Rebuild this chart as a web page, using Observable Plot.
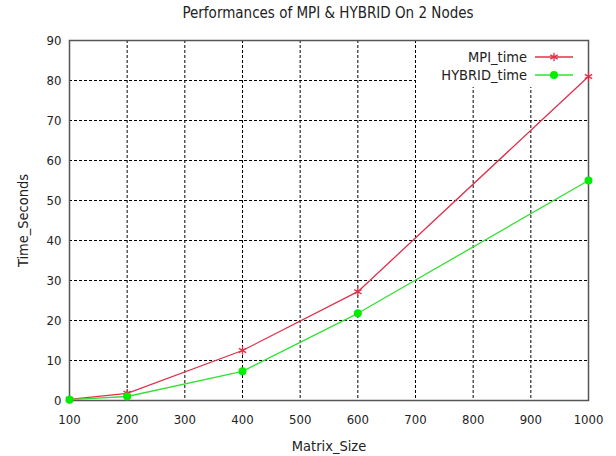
<!DOCTYPE html>
<html><head><meta charset="utf-8">
<script src="https://cdn.jsdelivr.net/npm/d3@7"></script>
<script src="https://cdn.jsdelivr.net/npm/@observablehq/plot@0.6"></script>
<style>
body{margin:0;background:#fff;}
#wrap{position:relative;width:616px;height:456px;font-family:"DejaVu Sans Condensed","DejaVu Sans",sans-serif;}
#title{position:absolute;top:4px;left:41px;width:574px;text-align:center;font-size:15px;color:#222;}
</style></head>
<body><div id="wrap"><div id="title">Performances of MPI &amp; HYBRID On 2 Nodes</div></div>
<script>
const sizes = [100, 200, 400, 600, 1000];
const mpiTime = [0.3, 1.8, 12.5, 27.2, 81];
const hybridTime = [0.2, 1.0, 7.3, 21.8, 55];
const seriesNames = ["MPI_time", "HYBRID_time"];
const xTicks = [100, 200, 300, 400, 500, 600, 700, 800, 900, 1000];
const yTicks = [0, 10, 20, 30, 40, 50, 60, 70, 80, 90];

const mpi = sizes.map((s, i) => ({x: s, y: mpiTime[i]}));
const hyb = sizes.map((s, i) => ({x: s, y: hybridTime[i]}));
const red = "#e0304a", green = "#33e033";
const font = "DejaVu Sans Condensed, DejaVu Sans, sans-serif";

const chart = Plot.plot({
  width: 616, height: 456,
  marginLeft: 69, marginRight: 28, marginTop: 40, marginBottom: 56,
  style: {fontFamily: font, fontSize: "13px", color: "#222"},
  x: {domain: [100, 1000]},
  y: {domain: [0, 90]},
  marks: [
    Plot.gridX(xTicks, {stroke: "#000", strokeOpacity: 1, strokeDasharray: "3,2", strokeWidth: 1}),
    Plot.gridY(yTicks, {stroke: "#000", strokeOpacity: 1, strokeDasharray: "3,2", strokeWidth: 1}),
    Plot.frame({stroke: "#555", strokeWidth: 1.5}),
    Plot.line(mpi, {x: "x", y: "y", stroke: red, strokeWidth: 1.3}),
    Plot.line(hyb, {x: "x", y: "y", stroke: green, strokeWidth: 1.3}),
    Plot.dot(mpi, {x: "x", y: "y", symbol: "asterisk", stroke: red, r: 4, strokeWidth: 1.3}),
    Plot.dot(hyb, {x: "x", y: "y", symbol: "circle", fill: "#00ee00", r: 4}),
    Plot.axisX(xTicks, {tickFormat: d3.format("d"), tickSize: 0, tickPadding: 14, label: null}),
    Plot.axisY(yTicks, {tickSize: 0, tickPadding: 8, label: null}),
    Plot.axisX({label: "Matrix_Size", labelAnchor: "center", labelArrow: "none", labelOffset: 50, tickSize: 0, ticks: [], fontSize: "14.5px"}),
    Plot.axisY({label: "Time_Seconds", labelAnchor: "center", labelArrow: "none", labelOffset: 52, tickSize: 0, ticks: [], fontSize: "14.5px"})
  ]
});
document.getElementById("wrap").appendChild(chart);

// legend box (white, covers grid) inside plot area top-right
const svg = d3.select(chart);
svg.insert("rect", '[aria-label="frame"]').attr("x", 416).attr("y", 41).attr("width", 171).attr("height", 46).attr("fill", "#fff");
const lg = svg.append("g").attr("font-family", font).attr("font-size", 14.5).attr("fill", "#222");
const items = [{name: seriesNames[0], color: red, sym: "asterisk"}, {name: seriesNames[1], color: green, sym: "circle"}];
items.forEach((it, i) => {
  const y = 57 + i * 18;
  lg.append("text").attr("x", 527).attr("y", y).attr("dy", "0.35em").attr("text-anchor", "end").text(it.name);
  lg.append("line").attr("x1", 535).attr("x2", 573).attr("y1", y).attr("y2", y).attr("stroke", it.color).attr("stroke-width", 1.3);
  if (it.sym === "asterisk") {
    lg.append("path").attr("d", d3.symbol(d3.symbolAsterisk, 50)()).attr("transform", `translate(554,${y})`).attr("stroke", red).attr("fill", "none").attr("stroke-width", 1.3);
  } else {
    lg.append("circle").attr("cx", 554).attr("cy", y).attr("r", 4).attr("fill", "#00ee00");
  }
});
</script></body></html>
